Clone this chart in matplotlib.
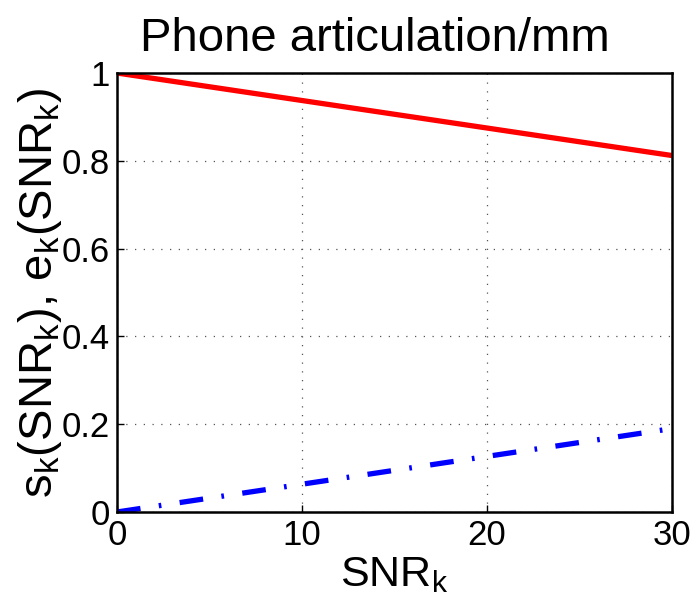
import matplotlib
matplotlib.use("Agg")
import matplotlib.pyplot as plt

# SNR range and the two articulation curves at its ends
snr = [0, 30]
e_k = [1.0, 0.812]
s_k = [0.0, 0.19]

plt.rcParams["font.family"] = ["Liberation Sans", "DejaVu Sans"]
plt.rcParams["mathtext.fontset"] = "custom"
plt.rcParams["mathtext.rm"] = "Liberation Sans"
plt.rcParams["mathtext.it"] = "Liberation Sans"

fig = plt.figure(figsize=(6.96, 6.10), dpi=100)
ax = fig.add_axes([117 / 696, 1 - 512 / 610, 555 / 696, 439 / 610])

ax.plot(snr, e_k, color="red", lw=3.8, solid_capstyle="butt")
ax.plot(snr, s_k, color="blue", lw=3.8, linestyle=(0, (4.5, 3.5, 0.5, 3.5)))

ax.set_xlim(0, 30)
ax.set_ylim(0, 1)
ax.set_xticks([0, 10, 20, 30])
ax.set_yticks([0, 0.2, 0.4, 0.6, 0.8, 1])
ax.set_yticklabels(["0", "0.2", "0.4", "0.6", "0.8", "1"])
ax.tick_params(direction="in", labelsize=25, length=5, width=1, pad=5)
ax.grid(True, color="#555555", linestyle=(0, (1, 6)), linewidth=0.9)
for sp in ax.spines.values():
    sp.set_linewidth(1.8)

ax.set_title("Phone articulation/mm", fontsize=34, pad=16, x=0.465)
ax.set_xlabel(r"SNR$_\mathrm{k}$", fontsize=31, labelpad=2)
ax.set_ylabel(r"s$_\mathrm{k}$(SNR$_\mathrm{k}$), e$_\mathrm{k}$(SNR$_\mathrm{k}$)", fontsize=34)
ax.yaxis.set_label_coords(-0.095, 0.5)

fig.savefig("out.png", dpi=100)
